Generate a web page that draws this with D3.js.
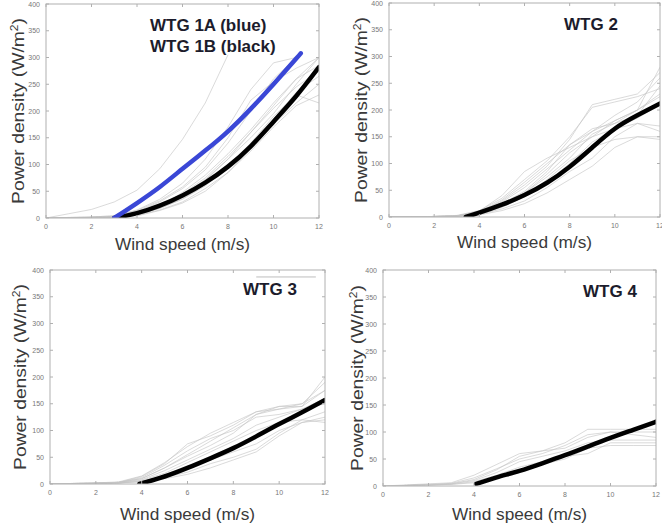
<!DOCTYPE html>
<html>
<head>
<meta charset="utf-8">
<script src="https://d3js.org/d3.v7.min.js"></script>
<style>
  html, body { margin: 0; padding: 0; background: #ffffff; }
  svg { display: block; font-family: "Liberation Sans", Arial, sans-serif; }
  .tick-label { fill: #777; font-size: 7px; }
  .axis-title { fill: #3a3a3a; font-size: 16px; }
  .panel-title { fill: #1c1c2c; font-size: 17px; font-weight: bold; }
</style>
</head>
<body>
<svg id="chart" width="662" height="527"></svg>
<script>
// wind speed sample points (m/s)
var speeds = [0, 1, 2, 3, 4, 5, 6, 7, 8, 9, 10, 11, 12];
var xTicks = [0, 2, 4, 6, 8, 10, 12];
var yTicks = [0, 50, 100, 150, 200, 250, 300, 350, 400];

// individual measured curves (W/m2 at each speed), light grey
var grey1 = [
  [0, 8, 16, 30, 52, 92, 147, 215, 305, null, null, null, null],
  [0, 0, 1, 2, 8, 20, 40, 70, 110, 160, 210, 260, 300],
  [0, 0, 1, 3, 12, 30, 55, 90, 140, 200, 260, 300, null],
  [0, 1, 2, 4, 15, 35, 65, 110, 170, 240, 290, 300, null],
  [0, 0, 1, 3, 10, 25, 45, 75, 115, 160, 205, 245, 275],
  [0, 0, 1, 2, 6, 18, 35, 60, 95, 135, 175, 215, 250],
  [0, 0, 1, 2, 5, 15, 30, 55, 85, 125, 170, 210, 230],
  [0, 0, 0, 1, 4, 14, 28, 50, 85, 130, 185, 235, 265],
  [0, 0, 1, 3, 9, 22, 42, 72, 110, 150, 195, 250, 300],
  [0, 1, 2, 4, 14, 32, 58, 95, 150, 220, 255, 280, 300],
  [0, 0, 1, 2, 7, 18, 36, 62, 98, 140, 190, 230, 215],
  [0, 0, 1, 2, 6, 20, 48, 80, 120, 165, 215, 260, 285]
];
var grey2 = [
  [0, 0, 1, 2, 8, 25, 45, 75, 110, 155, 175, 200, 230],
  [0, 0, 1, 3, 12, 35, 70, 105, 150, 205, 215, 225, 240],
  [0, 0, 1, 2, 10, 30, 60, 95, 145, 210, 220, 230, 270],
  [0, 0, 0, 1, 6, 20, 38, 65, 100, 140, 165, 185, 210],
  [0, 0, 1, 2, 9, 28, 55, 90, 125, 160, 180, 200, 225],
  [0, 0, 0, 1, 5, 15, 30, 55, 85, 110, 150, 175, 170],
  [0, 0, 0, 1, 4, 12, 25, 45, 70, 95, 130, 150, 150],
  [0, 0, 1, 2, 10, 32, 65, 100, 135, 165, 175, 190, 245],
  [0, 0, 0, 2, 7, 22, 45, 80, 120, 150, 165, 175, 160],
  [0, 0, 1, 2, 8, 25, 48, 85, 135, 160, 190, 215, 260],
  [0, 0, 0, 1, 5, 18, 38, 70, 105, 130, 145, 150, 145],
  [0, 0, 1, 2, 11, 40, 85, 110, 130, 150, 180, 200, 280]
];
var grey3 = [
  [0, 1, 2, 3, 10, 30, 55, 80, 105, 130, 140, 150, 190],
  [0, 1, 2, 4, 15, 40, 70, 95, 115, 135, 145, 145, 175],
  [0, 0, 1, 3, 8, 25, 45, 65, 85, 110, 125, 140, 160],
  [0, 0, 1, 2, 5, 15, 30, 45, 60, 75, 100, 115, 120],
  [0, 1, 2, 3, 12, 35, 62, 85, 100, 125, 130, 140, 150],
  [0, 0, 1, 2, 5, 12, 22, 38, 50, 65, 95, 120, 135],
  [0, 0, 1, 3, 10, 30, 52, 72, 95, 130, 145, 150, 175],
  [0, 0, 1, 2, 7, 20, 40, 60, 80, 100, 115, 120, 115],
  [0, 0, 1, 2, 4, 10, 18, 30, 45, 60, 90, 115, 125],
  [0, 1, 2, 3, 14, 38, 75, 90, 110, 135, 140, 145, 200]
];
var grey4 = [
  [0, 2, 4, 6, 20, 40, 60, 65, 80, 105, 105, 105, 105],
  [0, 1, 3, 5, 15, 32, 50, 60, 75, 95, 100, 100, 100],
  [0, 1, 2, 4, 10, 25, 45, 55, 65, 80, 85, 85, 85],
  [0, 1, 2, 3, 8, 20, 35, 45, 55, 60, 80, 80, 80],
  [0, 1, 2, 3, 6, 15, 28, 40, 50, 70, 75, 75, 75],
  [0, 1, 2, 4, 12, 30, 55, 65, 70, 90, 100, 95, 90]
];

// fitted mean curves: [speed, power]
var blue1A = [[3, 0], [4, 28], [5, 58], [6, 92], [7, 126], [8, 162], [9, 204], [10, 250], [11, 298], [11.2, 308]];
var black1B = [[3, 0], [4, 9], [5, 23], [6, 42], [7, 66], [8, 96], [9, 134], [10, 180], [11, 228], [12, 282]];
var black2 = [[3.4, 0], [4, 8], [5, 23], [6, 41], [7, 64], [8, 94], [9, 130], [10, 165], [11, 190], [12, 212]];
var black3 = [[3.9, 0], [5, 14], [6, 30], [7, 48], [8, 67], [9, 89], [10, 112], [11, 134], [12, 157]];
var black4 = [[4.1, 4], [5, 16], [6, 28], [7, 42], [8, 57], [9, 73], [10, 89], [11, 104], [12, 119]];

var titles1 = ["WTG 1A (blue)", "WTG 1B (black)"];

// layout of the four panels
var panels = [
  { left: 46, right: 319, top: 4, bottom: 218, grey: grey1, mean: [black1B], blue: blue1A,
    titles: titles1, titleX: 150, titleY: 31, ylabX: 18, xlabY: 250 },
  { left: 389, right: 660, top: 3, bottom: 217, grey: grey2, mean: [black2],
    titles: ["WTG 2"], titleX: 564, titleY: 30, ylabX: 361, xlabY: 248 },
  { left: 50, right: 325, top: 270, bottom: 484, grey: grey3, mean: [black3],
    titles: ["WTG 3"], titleX: 243, titleY: 295, ylabX: 20, xlabY: 520, stray: [[9, 387], [11.6, 387]] },
  { left: 383, right: 656, top: 270, bottom: 486, grey: grey4, mean: [black4],
    titles: ["WTG 4"], titleX: 583, titleY: 297, ylabX: 357, xlabY: 520 }
];

var svg = d3.select("#chart");

panels.forEach(function (p, i) {
  var x = d3.scaleLinear().domain([0, 12]).range([p.left, p.right]);
  var y = d3.scaleLinear().domain([0, 400]).range([p.bottom, p.top]);
  var g = svg.append("g");

  // clip to the axes box
  g.append("clipPath").attr("id", "clip" + i)
    .append("rect")
    .attr("x", p.left).attr("y", p.top)
    .attr("width", p.right - p.left).attr("height", p.bottom - p.top);

  var plot = g.append("g").attr("clip-path", "url(#clip" + i + ")");

  var greyLine = d3.line()
    .defined(function (d) { return d != null; })
    .x(function (d, j) { return x(speeds[j]); })
    .y(function (d) { return y(d); });

  plot.selectAll(".grey")
    .data(p.grey)
    .enter().append("path")
    .attr("d", greyLine)
    .attr("fill", "none")
    .attr("stroke", "#c4c4c4")
    .attr("stroke-opacity", 0.7)
    .attr("stroke-width", 0.9);

  if (p.stray) {
    plot.append("path")
      .attr("d", d3.line().x(d => x(d[0])).y(d => y(d[1]))(p.stray))
      .attr("stroke", "#bdbdbd")
      .attr("stroke-width", 1);
  }

  var meanLine = d3.line()
    .curve(d3.curveNatural)
    .x(function (d) { return x(d[0]); })
    .y(function (d) { return y(d[1]); });

  p.mean.forEach(function (m) {
    plot.append("path")
      .attr("d", meanLine(m))
      .attr("fill", "none")
      .attr("stroke", "#000")
      .attr("stroke-width", 4.5)
      .attr("stroke-linecap", "round");
  });

  if (p.blue) {
    plot.append("path")
      .attr("d", meanLine(p.blue))
      .attr("fill", "none")
      .attr("stroke", "#3a47d6")
      .attr("stroke-width", 4.5)
      .attr("stroke-linecap", "round");
  }

  // axes box
  g.append("rect")
    .attr("x", p.left).attr("y", p.top)
    .attr("width", p.right - p.left).attr("height", p.bottom - p.top)
    .attr("fill", "none")
    .attr("stroke", "#b0b0b0")
    .attr("stroke-width", 1);

  // inward ticks on all four sides
  xTicks.forEach(function (t) {
    g.append("line").attr("x1", x(t)).attr("x2", x(t)).attr("y1", p.bottom).attr("y2", p.bottom - 3)
      .attr("stroke", "#b0b0b0");
    g.append("line").attr("x1", x(t)).attr("x2", x(t)).attr("y1", p.top).attr("y2", p.top + 3)
      .attr("stroke", "#b0b0b0");
    g.append("text").attr("class", "tick-label")
      .attr("x", x(t)).attr("y", p.bottom + 11)
      .attr("text-anchor", "middle")
      .text(t);
  });
  yTicks.forEach(function (t) {
    g.append("line").attr("x1", p.left).attr("x2", p.left + 3).attr("y1", y(t)).attr("y2", y(t))
      .attr("stroke", "#b0b0b0");
    g.append("line").attr("x1", p.right).attr("x2", p.right - 3).attr("y1", y(t)).attr("y2", y(t))
      .attr("stroke", "#b0b0b0");
    g.append("text").attr("class", "tick-label")
      .attr("x", p.left - 6).attr("y", y(t) + 2.5)
      .attr("text-anchor", "end")
      .text(t);
  });

  // axis titles
  g.append("text").attr("class", "axis-title")
    .attr("x", (p.left + p.right) / 2).attr("y", p.xlabY)
    .attr("text-anchor", "middle")
    .attr("textLength", 135)
    .attr("lengthAdjust", "spacingAndGlyphs")
    .text("Wind speed (m/s)");

  var ylab = g.append("text").attr("class", "axis-title")
    .attr("text-anchor", "middle")
    .attr("textLength", 186)
    .attr("lengthAdjust", "spacingAndGlyphs")
    .attr("transform", "translate(" + (p.ylabX + 6) + "," + ((p.top + p.bottom) / 2) + ") rotate(-90)");
  ylab.append("tspan").text("Power density (W/m");
  ylab.append("tspan").attr("font-size", "10px").attr("dy", "-6").text("2");
  ylab.append("tspan").attr("dy", "6").text(")");

  // panel titles
  p.titles.forEach(function (t, k) {
    g.append("text").attr("class", "panel-title")
      .attr("x", p.titleX).attr("y", p.titleY + k * 21)
      .text(t);
  });
});
</script>
</body>
</html>
